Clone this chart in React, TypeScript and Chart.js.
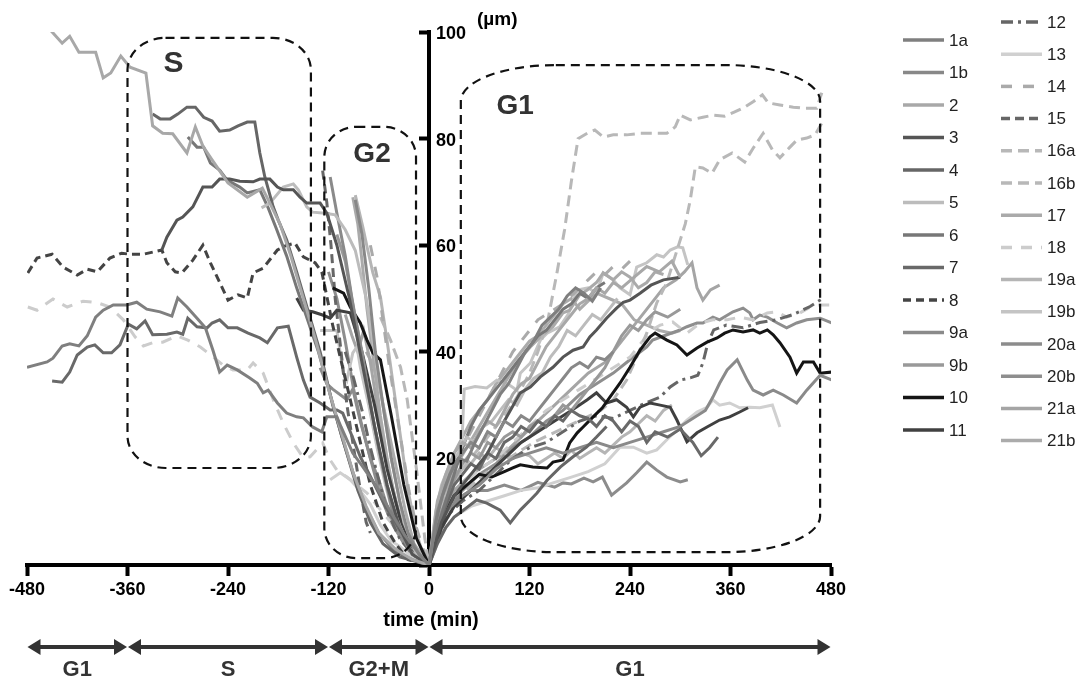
import React, { useEffect, useRef } from 'react';
import { Chart, registerables } from 'chart.js';

Chart.register(...registerables);

type Pt = [number, number];

// ---- series (time in min, distance in µm) ----
const s1a: Pt[] = [[-480,37.1],[-456,38.1],[-449,38.8],[-438,41.1],[-429,41.5],[-418,41.1],[-408,43],[-398,46.5],[-389,47.8],[-377,48.8],[-361,48.8],[-349,49.3],[-337,48],[-321,47.5],[-307,46.7],[-300,50.1],[-289,48.4],[-277,46.3],[-267,44.5],[-258,40.3],[-250,36.2],[-241,37.5],[-229,36.6],[-214,35.1],[-205,34.1],[-198,32.3],[-192,32.8],[-181,30.4],[-170,28.5],[-158,27.8],[-150,27.6],[-139,25.9],[-128,25],[-122,27.8],[-110,27.8],[-105,25.9],[-91,21],[-79,18.4],[-64,15],[-47,10.3],[-29,5.6],[-11,1.9],[0,0],[8,8],[16,13],[25,17],[35,20],[45,19.5],[55,23],[65,26],[75,29],[85,32],[95,34],[105,37],[115,40],[125,42],[135,45],[145,46.5],[155,48],[165,50.5],[175,52],[185,51],[195,49.5],[205,52]];
const s1b: Pt[] = [[-88,68.5],[-80,62],[-72,52],[-64,40],[-55,30],[-45,20],[-35,12],[-25,6],[-12,2],[0,0],[10,10],[20,15],[30,19],[40,21],[50,23],[60,22],[70,25],[80,24],[90,27],[100,26],[110,28],[120,27],[130,29],[140,31],[150,33],[160,35],[170,37],[180,38],[190,37],[200,39],[210,38.5],[220,40]];
const s2: Pt[] = [[-470,100.5],[-462,102],[-450,100],[-438,97.9],[-429,99.2],[-418,96.2],[-398,96.2],[-389,91.4],[-380,92.3],[-368,95.5],[-357,93.4],[-338,92.3],[-330,82.4],[-318,81],[-306,80.9],[-289,77.3],[-279,82.2],[-270,78.6],[-259,76],[-240,71.7],[-217,69],[-199,70.7],[-190,67.9],[-178,64],[-165,58],[-150,50],[-135,42],[-120,33],[-105,25],[-90,17],[-75,11],[-60,6],[-40,3],[-20,1],[0,0],[10,12],[20,17],[30,21],[40,23],[50,22],[60,25],[70,27],[80,26],[90,29],[100,32],[110,34],[120,35],[130,38],[140,41],[150,43],[160,45],[170,47],[180,49],[190,50],[200,52],[210,51],[220,53],[230,52],[245,54],[260,56],[275,55],[290,57],[300,54]];
const s3: Pt[] = [[-319,59.1],[-313,61.5],[-301,64.7],[-294,65.3],[-282,67.2],[-270,70.9],[-259,70.9],[-250,72.4],[-238,72.4],[-226,72],[-210,71.9],[-202,72.4],[-190,72.4],[-181,70.9],[-174,70.4],[-162,70.4],[-154,69],[-146,67.9],[-130,67.9],[-122,66],[-110,60],[-95,50],[-80,38],[-65,26],[-50,15],[-35,7],[-20,2],[0,0],[15,8],[30,13],[50,17],[70,21],[90,27],[109,32.3],[121,33.4],[133,35.3],[148,37.1],[160,39],[172,40.3],[184,40.9],[192,42.8],[200,44.1],[212,46.3],[224,48.2],[232,49.3],[240,49.7],[252,51],[265,52.5],[280,53.5],[300,54]];
const s4: Pt[] = [[-330,84.6],[-321,83.7],[-309,83.7],[-300,84.6],[-289,85.9],[-279,85.9],[-269,84],[-259,83.3],[-250,81.4],[-238,81.6],[-228,82.4],[-217,83.1],[-208,83.1],[-202,77.3],[-196,72.8],[-186,67.2],[-180,64.7],[-170,61],[-158,55],[-145,48],[-130,40],[-115,30],[-100,22],[-85,14],[-70,8],[-55,4],[-35,1.5],[0,0],[10,4],[20,7],[30,9],[37,9.8],[47,11],[57,12.2],[69,11.6],[85,10.3],[97,7.9],[109,10.3],[121,12.2],[129,13.5],[141,15.9],[157,18.4],[172,20.3],[188,22.1],[200,24],[212,26]];
const s5: Pt[] = [[-200,67],[-190,67.9],[-174,70.9],[-162,71.5],[-156,70.4],[-146,67.2],[-139,66.2],[-124,66],[-112,65.7],[-100,62.9],[-88,59],[-75,50],[-60,35],[-45,20],[-30,8],[-15,2],[0,0],[8,10],[15,15],[25,19],[35,21],[45,24],[55,23],[65,26],[75,27],[85,29],[95,31],[105,30],[115,33],[125,35],[135,36],[145,39],[155,41],[165,44],[175,43],[185,45],[195,47],[205,46],[215,48],[225,50]];
const s6: Pt[] = [[-288,80.3],[-277,78.4],[-269,78.4],[-261,75.4],[-250,74.1],[-241,72.2],[-226,70.9],[-217,69.8],[-202,70.4],[-192,67],[-182,63],[-170,58],[-158,52],[-145,46],[-132,40],[-118,32],[-104,24],[-90,17],[-76,11],[-60,6],[-40,2.5],[-20,1],[0,0],[10,7],[20,12],[30,17],[40,22],[50,26],[60,29],[70,31],[80,33],[90,35],[100,37],[110,39],[120,41],[130,43],[140,44],[150,46],[160,48],[170,49],[180,51],[190,50],[200,52],[210,53]];
const s7: Pt[] = [[-450,34.5],[-438,34.3],[-429,36.2],[-420,39.4],[-408,40.9],[-399,41.3],[-389,39.8],[-379,39.8],[-369,41.3],[-359,45.2],[-349,44.3],[-339,45.8],[-330,43.2],[-313,43.3],[-301,43.7],[-294,43.3],[-288,46.3],[-277,44.7],[-265,44.5],[-259,45.4],[-250,46],[-240,44.5],[-229,44.5],[-216,43.5],[-202,42.6],[-193,41.7],[-181,44.5],[-168,44.8],[-158,39],[-150,34.7],[-142,31.5],[-130,30.4],[-118,29.1],[-110,29.1],[-103,28.5],[-94,25],[-82,20.3],[-68,16],[-53,11.3],[-35,6.6],[-17,2.8],[0,0],[10,6],[20,11],[30,15],[40,17],[50,19],[60,18],[70,21],[80,20],[90,23],[100,24],[110,26],[120,25],[130,27],[140,26],[150,28],[160,27],[170,29],[180,28],[190,27.5],[200,26],[210,28],[220,27],[230,25],[240,27],[250,26],[260,23],[270,25],[285,24],[300,25.5],[315,23],[325,20.5],[335,22],[345,24]];
const s8: Pt[] = [[-479,54.8],[-468,57.6],[-450,58.3],[-437,55.9],[-420,54.4],[-408,55.5],[-396,55],[-381,57.6],[-367,58.5],[-357,58.3],[-341,58.3],[-319,59.1],[-313,56.7],[-303,55],[-295,54.8],[-282,57.2],[-270,60],[-261,56.7],[-240,49.7],[-228,50.7],[-217,50.1],[-210,54.8],[-198,55.7],[-181,59.1],[-170,60],[-160,60.4],[-150,57.8],[-136,56.7],[-128,55],[-115,45],[-100,35],[-85,25],[-70,15],[-55,8],[-40,4],[-25,1],[0,0]];
const s9a: Pt[] = [[-118,72.8],[-110,66],[-100,58],[-92,50],[-84,43],[-75,35],[-65,26],[-55,18],[-45,11],[-35,6],[-20,2],[0,0],[10,7],[20,10],[40,13],[60,15],[80,18],[100,20],[120,21],[140,22],[160,21],[180,22],[200,23],[220,22],[240,23],[260,24],[280,25],[300,26],[320,28],[330,29],[339,31.5],[347,34.1],[356,36.6],[368,38.5],[380,34.7],[387,32.8],[399,31.9],[411,32.8],[423,31.9],[439,30.4],[451,32.8],[467,35.6],[481,34.7]];
const s9b: Pt[] = [[-110,62],[-100,57],[-90,48],[-80,40],[-70,30],[-60,22],[-50,15],[-40,9],[-25,4],[0,0],[10,8],[20,12],[30,16],[40,19],[50,21],[60,20],[70,23],[80,22],[90,24],[100,25],[110,24],[120,26],[130,27],[140,26],[150,28],[160,30],[170,29],[180,31],[190,33],[200,35],[210,37],[220,40],[230,43],[240,45],[250,44],[260,46],[270,47.5],[285,46.5],[300,48]];
const s10: Pt[] = [[-115,52],[-102,51],[-94,48.4],[-82,45.4],[-74,42.2],[-67,39.8],[-58,38.5],[-45,28],[-30,15],[-15,5],[0,0],[10,6],[20,10],[30,13],[45,15],[60,17],[75,16.5],[90,17.5],[100,18.2],[109,18.8],[124,18.4],[141,18.2],[148,19.3],[160,19.7],[168,22.9],[177,24.8],[184,25.9],[196,27.8],[207,29.5],[216,31.5],[228,34.1],[240,37.1],[252,40.3],[264,42.8],[270,43.5],[284,42.2],[296,41.3],[308,39.4],[320,40.7],[332,41.8],[344,42.6],[353,43.5],[363,44.1],[375,43.7],[387,44.1],[395,43.5],[404,44.1],[411,43.2],[419,41.7],[431,39],[439,36],[447,38.1],[459,38.1],[467,36],[481,36.2]];
const s11: Pt[] = [[-158,50.1],[-150,47.8],[-139,47.5],[-127,46.9],[-118,46.3],[-110,47.8],[-94,47.3],[-80,40],[-65,30],[-50,18],[-35,9],[-20,3],[0,0],[15,7],[30,11],[50,14],[70,17],[90,20],[110,23],[130,25],[150,27],[170,29],[189,31],[200,32.3],[212,30.4],[224,31],[236,29.6],[244,27.8],[252,29.6],[264,30.4],[276,30],[288,29.6],[296,27.2],[308,23.1],[320,24.8],[332,25.9],[347,27.2],[359,27.8],[371,28.7],[381,29.5]];
const s12: Pt[] = [[-100,40],[-90,35],[-80,29],[-70,22],[-60,16],[-50,10],[-35,5],[-20,2],[0,0],[20,9],[40,12],[60,14],[80,17],[100,20],[120,22],[140,23],[160,25],[180,27],[200,28],[220,27.5],[240,29],[260,30.5],[276,31.5],[288,33.4],[300,34.7],[312,35.1],[321,35.6],[327,37.9],[333,41.7],[340,44.1],[355,45],[375,44.5],[395,45.5],[415,46],[435,47],[455,48.5],[470,50]];
const s13: Pt[] = [[-118,16],[-106,17.3],[-94,16],[-82,13.9],[-70,11.4],[-58,7.5],[-45,4.5],[-35,3.5],[-20,1.5],[0,0],[15,6],[30,9],[50,11],[70,12],[90,13],[110,14],[130,14.5],[150,15.5],[170,16.5],[190,17.5],[210,19],[228,22.1],[244,22.1],[260,21],[272,21.6],[284,23.5],[296,25.3],[308,27.2],[320,28.7],[332,29.6],[339,31],[347,30],[359,30.4],[371,29.5],[383,29.6],[395,29.5],[410,30],[419,25.9]];
const s14: Pt[] = [[-70,60],[-62,54],[-55,46],[-48,38],[-40,30],[-32,22],[-24,14],[-15,7],[-5,2],[0,0],[10,10],[20,15],[30,19],[40,22],[50,25],[60,28],[70,31],[80,34],[90,37],[100,40],[110,42],[120,44],[130,46],[140,47],[150,48],[160,49],[170,50.5],[180,52],[190,53.5],[200,55],[210,54.5],[220,56],[230,55.5],[240,57]];
const s15: Pt[] = [[-127,74],[-122,68],[-117,60],[-112,50],[-105,40],[-98,30],[-90,22],[-82,14],[-75,8],[-70,6]];
const s16a: Pt[] = [[-58,46.5],[-46,42.2],[-34,37.1],[-26,31],[-15,18],[-5,5],[0,0],[10,8],[20,13],[30,16],[45,19],[60,22],[75,25],[90,28],[105,31.5],[120,36],[130,40],[142,46],[153,55],[162,63],[170,72],[178,80],[189,81],[198,81.6],[208,80.3],[220,80.7],[236,80.7],[252,81],[267,81],[284,81],[294,82.2],[300,84.4],[312,83.5],[327,84],[339,84.4],[353,84.2],[365,85],[377,85.9],[387,86.9],[398,88.2],[405,86.7],[419,86.3],[435,85.9],[447,85.7],[463,85.7],[469,88.6]];
const s16b: Pt[] = [[0,0],[10,5],[25,10],[45,14],[65,17],[85,19],[105,21],[125,23],[145,24.5],[165,26],[185,27.5],[205,29],[220,31],[236,34.7],[248,39],[260,43.5],[272,49.2],[284,53],[296,59],[306,64],[312,68.5],[318,74.7],[327,74.5],[338,73.5],[347,76],[362,77.3],[377,75.6],[387,78.2],[399,81],[410,77.9],[419,76.4],[431,78.4],[439,79.7],[451,80.1],[461,80.7],[469,82.9]];
const s17: Pt[] = [[-91,69],[-85,64],[-80,57],[-74,48],[-66,38],[-58,28],[-50,20],[-40,12],[-30,6],[-15,2],[0,0],[10,9],[20,14],[30,18],[45,22],[60,26],[75,30],[90,34],[105,38],[121,40.9],[133,42.8],[148,44.7],[160,47.3],[168,47.8],[180,50.7],[189,51.6],[200,53],[208,54.8],[220,53.5],[230,55],[240,54],[250,52],[260,53],[270,55],[280,54.5]];
const s18: Pt[] = [[-479,48.4],[-468,47.8],[-449,49.9],[-432,48.4],[-413,49.5],[-396,49.2],[-381,48.4],[-365,46],[-351,42.8],[-341,41.1],[-330,41.7],[-318,41.8],[-301,43],[-288,42.2],[-273,40.9],[-259,39.2],[-246,37.5],[-234,36.6],[-217,36.6],[-210,37.9],[-198,36],[-186,31],[-174,26.6],[-162,22.9],[-150,20.1],[-142,20.3],[-127,22.9],[-118,19.7],[-110,17.8],[-98,16.5],[-74,13.5],[-55,9.8],[-35,6],[-17,2.8],[0,0],[20,10],[40,15],[60,18],[80,20],[100,23],[120,26],[140,29],[160,31],[180,33],[200,35],[220,37],[240,39],[255,42],[265,44],[276,45],[291,45.6],[308,43.5],[324,45.4],[339,46],[356,46],[371,46.5],[387,46],[404,47.3],[416,47.5],[427,46.5],[443,47.3],[455,48.4],[467,48.8],[481,48.8]];
const s19a: Pt[] = [[-88,69.4],[-79,63.4],[-74,59.7],[-67,54.8],[-58,50.3],[-50,42],[-42,33],[-34,24],[-25,14],[-15,6],[-5,1],[0,0],[10,8],[20,13],[30,16],[40,18],[50,19],[60,21],[70,20],[80,22],[90,21],[100,20],[110,21],[120,20.5],[130,19],[140,20],[150,21],[160,20],[170,21.5],[180,20],[190,21],[200,22],[210,21],[220,22.5],[230,24],[240,25],[250,26.5],[260,28],[270,27],[280,29],[290,30]];
const s19b: Pt[] = [[-130,44],[-110,44],[-106,39.8],[-102,36],[-98,34.7],[-91,39.8],[-86,40.9],[-82,37.1],[-72,30],[-62,22],[-52,15],[-40,8],[-25,3],[0,0],[10,8],[20,14],[30,17],[38,18],[42,33],[55,33.5],[69,33.2],[81,34.7],[93,34.1],[105,32.8],[109,36],[121,37.9],[133,42.2],[141,43.5],[156,44.7],[166,47],[177,51.6],[190,52],[200,51],[208,54.8],[220,53.5],[228,52],[240,50.7],[248,55.9],[260,56.7],[272,58.2],[280,57.8],[288,59.1],[297,59.7],[303,59.5],[309,56.3]];
const s20a: Pt[] = [[-130,37],[-122,34],[-115,33],[-98,31],[-91,33],[-82,27],[-70,20],[-58,13],[-45,8],[-30,4],[-15,1.5],[0,0],[15,8],[30,12],[50,14],[70,14],[90,15],[110,14],[130,15.5],[150,14.6],[160,15.4],[170,15.2],[185,16.3],[196,15.6],[207,16.5],[218,13.1],[236,15.4],[248,17.3],[260,19.3],[272,17.8],[284,16.5],[300,15.6],[309,16]];
const s20b: Pt[] = [[-120,55],[-110,50],[-100,42],[-90,33],[-80,26],[-70,20],[-60,16],[-50,11],[-40,7],[-25,3],[0,0],[20,10],[40,14],[60,17],[80,19],[100,22],[120,24],[140,27],[160,29],[180,32],[200,34],[220,36],[240,38.5],[260,40.9],[267,42.2],[284,43.2],[300,44.1],[308,44.7],[320,45.4],[327,45.4],[339,46.5],[347,46],[363,47.5],[375,48.2],[383,47.3],[387,46],[395,46.9],[404,46.5],[416,45.4],[427,44.5],[439,45.4],[451,46],[467,46.3],[481,45.4]];
const s21a: Pt[] = [[-100,47],[-92,43],[-85,40],[-78,44],[-70,38],[-62,30],[-54,22],[-46,16],[-36,10],[-24,4],[0,0],[15,9],[30,14],[50,17],[70,19],[90,21],[110,24],[130,27],[150,30],[170,33],[190,36],[210,38],[230,42],[250,46],[265,49],[280,52],[295,53.5],[305,55],[314,56.7],[320,52],[327,49.7],[336,51.6],[347,52.5]];
const s21b: Pt[] = [[-75,40],[-68,38],[-60,34],[-52,28],[-44,22],[-36,16],[-28,10],[-18,4],[0,0],[10,10],[20,16],[30,21],[40,24],[50,27],[60,29],[70,31],[80,34],[90,36],[100,38],[110,40],[120,42],[130,43],[140,45],[150,47],[160,49],[170,50],[180,48],[190,49.5],[200,51],[215,50],[230,49],[245,46],[260,45],[275,44],[290,43.5],[300,44]];

const seriesLabels = ['1a','1b','2','3','4','5','6','7','8','9a','9b','10','11','12','13','14','15','16a','16b','17','18','19a','19b','20a','20b','21a','21b'];
const seriesData = [s1a,s1b,s2,s3,s4,s5,s6,s7,s8,s9a,s9b,s10,s11,s12,s13,s14,s15,s16a,s16b,s17,s18,s19a,s19b,s20a,s20b,s21a,s21b];

// axes / annotations
const xTickValues = [-480,-360,-240,-120,0,120,240,360,480];
const yTickValues = [20,40,60,80,100];
const phaseStart = [-480,-360,-120,0];
const phaseEnd = [-360,-120,0,480];
const phaseNames = ['G1','S','G2+M','G1'];
const boxNames = ['S','G2','G1'];
const boxStart = [-360,-125,38];
const boxEnd = [-141,-15.5,467];
const boxTop = [98.9,82.2,93.8];
const boxBottom = [18.2,1.3,2.4];
const boxLabelT = [-305,-68,103];
const boxLabelV = [94,77,86];

// styles
const colors: Record<string,string> = {
  '1a':'#7f7f7f','1b':'#888888','2':'#a8a8a8','3':'#555555','4':'#666666','5':'#bcbcbc','6':'#777777','7':'#696969',
  '8':'#444444','9a':'#8a8a8a','9b':'#999999','10':'#151515','11':'#404040','12':'#666666','13':'#d0d0d0',
  '14':'#aaaaaa','15':'#666666','16a':'#b8b8b8','16b':'#b8b8b8','17':'#aaaaaa','18':'#cccccc','19a':'#b5b5b5',
  '19b':'#c4c4c4','20a':'#8c8c8c','20b':'#8e8e8e','21a':'#a5a5a5','21b':'#ababab'
};
const dashes: Record<string,number[]> = {
  '8':[8,5],'12':[12,5,3,5],'14':[11,11],'15':[9,5],'16a':[11,6],'16b':[11,6],'18':[11,9]
};

const FONT = "'Liberation Sans', Arial, sans-serif";

function ellRect(ctx: CanvasRenderingContext2D, x0: number, y0: number, x1: number, y1: number, rx: number, ry: number) {
  ctx.beginPath();
  ctx.moveTo(x0 + rx, y0);
  ctx.lineTo(x1 - rx, y0);
  ctx.ellipse(x1 - rx, y0 + ry, rx, ry, 0, -Math.PI / 2, 0);
  ctx.lineTo(x1, y1 - ry);
  ctx.ellipse(x1 - rx, y1 - ry, rx, ry, 0, 0, Math.PI / 2);
  ctx.lineTo(x0 + rx, y1);
  ctx.ellipse(x0 + rx, y1 - ry, rx, ry, 0, Math.PI / 2, Math.PI);
  ctx.lineTo(x0, y0 + ry);
  ctx.ellipse(x0 + rx, y0 + ry, rx, ry, 0, Math.PI, Math.PI * 1.5);
  ctx.closePath();
  ctx.stroke();
}

const radii = [[38, 32], [32, 30], [95, 36]];
const boxFont = [30, 28, 28];

const overlayPlugin = {
  id: 'overlay',
  afterDatasetsDraw(chart: any) {
    const { ctx, scales } = chart;
    const xs = scales.x, ys = scales.y;
    ctx.save();
    ctx.strokeStyle = '#111';
    ctx.lineWidth = 2.2;
    ctx.setLineDash([9, 6]);
    for (let i = 0; i < boxNames.length; i++) {
      const x0 = xs.getPixelForValue(boxStart[i]);
      const x1 = xs.getPixelForValue(boxEnd[i]);
      const y0 = ys.getPixelForValue(boxTop[i]);
      const y1 = ys.getPixelForValue(boxBottom[i]);
      ellRect(ctx, x0, y0, x1, y1, radii[i][0], radii[i][1]);
    }
    ctx.setLineDash([]);
    ctx.fillStyle = '#333';
    ctx.textAlign = 'center';
    ctx.textBaseline = 'middle';
    for (let i = 0; i < boxNames.length; i++) {
      ctx.font = `bold ${boxFont[i]}px ${FONT}`;
      ctx.fillText(boxNames[i], xs.getPixelForValue(boxLabelT[i]), ys.getPixelForValue(boxLabelV[i]));
    }
    ctx.restore();
  },
  afterDraw(chart: any) {
    const { ctx, scales } = chart;
    const xs = scales.x, ys = scales.y;
    ctx.save();
    // y tick labels (right of the axis)
    const ax = xs.getPixelForValue(0);
    ctx.fillStyle = '#000';
    ctx.font = `bold 18px ${FONT}`;
    ctx.textAlign = 'left';
    ctx.textBaseline = 'middle';
    for (const v of yTickValues) {
      ctx.fillText(String(v), ax + 7, ys.getPixelForValue(v) + 2);
    }
    ctx.font = `bold 19px ${FONT}`;
    ctx.fillText('(µm)', ax + 48, ys.getPixelForValue(100) - 12);
    // x title
    ctx.font = `bold 20px ${FONT}`;
    ctx.textAlign = 'center';
    ctx.fillText('time (min)', ax + 2, 620);
    // phase arrows
    const ay = 647;
    ctx.fillStyle = '#333';
    ctx.strokeStyle = '#333';
    ctx.lineWidth = 4;
    const hl = 13, hw = 8;
    for (let i = 0; i < phaseStart.length; i++) {
      const a = xs.getPixelForValue(phaseStart[i]) + 0.5;
      const b = xs.getPixelForValue(phaseEnd[i]) - 0.5;
      ctx.beginPath();
      ctx.moveTo(a + hl - 1, ay);
      ctx.lineTo(b - hl + 1, ay);
      ctx.stroke();
      ctx.beginPath();
      ctx.moveTo(a, ay);
      ctx.lineTo(a + hl, ay - hw);
      ctx.lineTo(a + hl, ay + hw);
      ctx.closePath();
      ctx.fill();
      ctx.beginPath();
      ctx.moveTo(b, ay);
      ctx.lineTo(b - hl, ay - hw);
      ctx.lineTo(b - hl, ay + hw);
      ctx.closePath();
      ctx.fill();
    }
    ctx.font = `bold 22px ${FONT}`;
    ctx.textAlign = 'center';
    ctx.textBaseline = 'middle';
    for (let i = 0; i < phaseNames.length; i++) {
      const mid = (phaseStart[i] + phaseEnd[i]) / 2;
      ctx.fillText(phaseNames[i], xs.getPixelForValue(mid), 670);
    }
    // legend
    const ds = chart.data.datasets;
    ctx.font = `17px ${FONT}`;
    ctx.textAlign = 'left';
    ctx.textBaseline = 'middle';
    ds.forEach((d: any, i: number) => {
      const col = i < 13 ? 0 : 1;
      const row = col === 0 ? i : i - 13;
      const lx = col === 0 ? 903 : 1001;
      const ly = col === 0 ? 40 + row * 32.5 : 22 + row * 32.2;
      ctx.strokeStyle = d.borderColor;
      ctx.lineWidth = 3.5;
      ctx.setLineDash(d.borderDash || []);
      ctx.beginPath();
      ctx.moveTo(lx, ly);
      ctx.lineTo(lx + 41, ly);
      ctx.stroke();
      ctx.setLineDash([]);
      ctx.fillStyle = '#222';
      ctx.fillText(d.label, lx + 46, ly + 1);
    });
    ctx.restore();
  }
};

export default function App() {
  const ref = useRef<HTMLCanvasElement>(null);
  useEffect(() => {
    if (!ref.current) return;
    const datasets = seriesLabels.map((lab, i) => ({
      label: lab,
      data: seriesData[i],
      borderColor: colors[lab],
      backgroundColor: colors[lab],
      borderWidth: 3,
      borderDash: dashes[lab] || [],
      pointRadius: 0,
      tension: 0,
      fill: false,
    }));
    const chart = new Chart(ref.current, {
      type: 'line',
      data: { datasets },
      options: {
        animation: false,
        responsive: false,
        parsing: { xAxisKey: '0', yAxisKey: '1' } as any,
        layout: { padding: { left: 27, right: 250, top: 32, bottom: 115 } },
        plugins: { legend: { display: false }, tooltip: { enabled: false } },
        scales: {
          x: {
            type: 'linear',
            min: -480,
            max: 480,
            position: { y: 0 } as any,
            z: 1,
            afterBuildTicks: (s: any) => { s.ticks = xTickValues.map(v => ({ value: v })); },
            ticks: { color: '#000', font: { family: FONT, weight: 'bold', size: 18 }, padding: 5, maxRotation: 0, autoSkip: false },
            grid: { drawOnChartArea: false, drawTicks: true, tickLength: 9, tickWidth: 4, tickColor: '#000' },
            border: { display: true, width: 4, color: '#000' },
          },
          y: {
            type: 'linear',
            min: 0,
            max: 100,
            position: { x: 0 } as any,
            z: 1,
            afterBuildTicks: (s: any) => { s.ticks = [0, ...yTickValues].map(v => ({ value: v })); },
            ticks: { display: false },
            grid: { drawOnChartArea: false, drawTicks: true, tickLength: 8, tickWidth: 4, tickColor: '#000' },
            border: { display: true, width: 4, color: '#000' },
          },
        },
      },
      plugins: [overlayPlugin],
    });
    return () => chart.destroy();
  }, []);
  return (
    <div style={{ position: 'fixed', left: 0, top: 0, width: 1081, height: 680, background: '#fff' }}>
      <canvas ref={ref} width={1081} height={680} style={{ display: 'block', width: 1081, height: 680 }} />
    </div>
  );
}
